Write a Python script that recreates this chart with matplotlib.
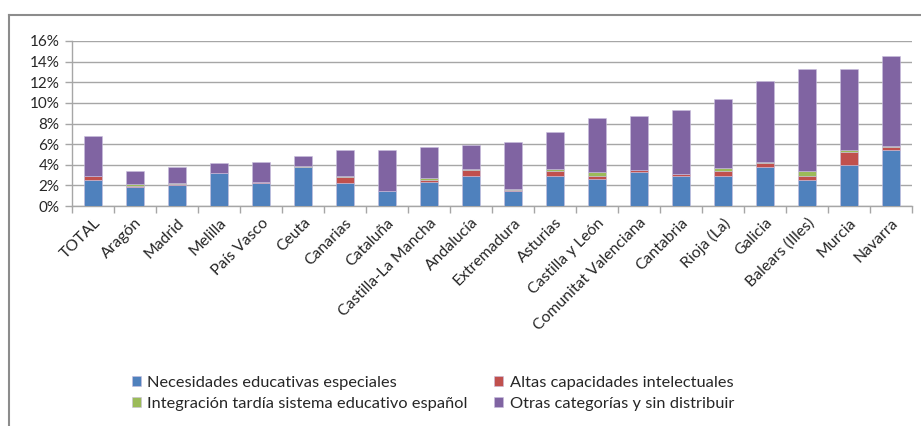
import matplotlib
matplotlib.use("Agg")
import matplotlib.pyplot as plt
from matplotlib.lines import Line2D
from matplotlib.ticker import FuncFormatter, FixedLocator
import numpy as np

plt.rcParams['font.family'] = ['Lato', 'DejaVu Sans']

# data (percent of students)
regions = ["TOTAL", "Aragón", "Madrid", "Melilla", "País Vasco", "Ceuta",
           "Canarias", "Cataluña", "Castilla-La Mancha", "Andalucía",
           "Extremadura", "Asturias", "Castilla y León", "Comunitat Valenciana",
           "Cantabria", "Rioja (La)", "Galicia", "Balears (Illes)", "Murcia",
           "Navarra"]
nee = [2.55, 1.85, 2.0, 3.2, 2.2, 3.78, 2.2, 1.42, 2.36, 2.9,
       1.45, 2.9, 2.65, 3.33, 2.9, 2.9, 3.78, 2.55, 3.98, 5.43]
altas = [0.35, 0.12, 0.15, 0.02, 0.12, 0.02, 0.6, 0.02, 0.13, 0.6,
         0.12, 0.5, 0.25, 0.12, 0.2, 0.45, 0.4, 0.35, 1.22, 0.3]
integ = [0.05, 0.15, 0.1, 0.02, 0.03, 0.1, 0.1, 0.02, 0.25, 0.05,
         0.12, 0.15, 0.4, 0.02, 0.02, 0.3, 0.12, 0.5, 0.22, 0.12]
otras = [3.85, 1.3, 1.5, 0.95, 1.95, 0.95, 2.5, 4.0, 3.0, 2.35,
         4.5, 3.6, 5.2, 5.25, 6.15, 6.7, 7.85, 9.9, 7.9, 8.73]

series = [
    ("Necesidades educativas especiales", nee, "#4F81BD"),
    ("Altas capacidades intelectuales", altas, "#C0504D"),
    ("Integración tardía sistema educativo español", integ, "#9BBB59"),
    ("Otras categorías y sin distribuir", otras, "#8064A2"),
]

W, H = 921, 426
fig = plt.figure(figsize=(W / 100, H / 100), dpi=100)
ax = fig.add_axes([72 / W, (H - 206) / H, 840 / W, 165 / H])

x = np.arange(len(regions))
bottom = np.zeros(len(regions))
for name, vals, col in series:
    ax.bar(x, vals, 0.41, bottom=bottom, color=col, edgecolor="#C9BEDD",
           linewidth=0.4, label=name, zorder=3)
    bottom += np.array(vals)

ax.set_xlim(-0.5, len(regions) - 0.5)
ax.set_ylim(0, 16)
ax.set_yticks(np.arange(0, 17, 2))
ax.yaxis.set_major_formatter(FuncFormatter(lambda v, p: f"{v:.0f}%"))
ax.grid(axis="y", color="#A6A6A6", linewidth=1.0, zorder=0)

ax.set_xticks(x)
ax.set_xticklabels(regions, rotation=45, ha="right", rotation_mode="anchor",
                   fontsize=11.3, color="#262626")
ax.tick_params(axis="x", which="major", length=0, pad=7)
ax.xaxis.set_minor_locator(FixedLocator(np.arange(-0.5, len(regions), 1.0)))
ax.tick_params(axis="x", which="minor", length=5, color="#A6A6A6", width=1)
ax.tick_params(axis="y", length=5, color="#A6A6A6", width=1, labelsize=11,
               labelcolor="#262626", pad=4)

for s in ["top", "right"]:
    ax.spines[s].set_visible(False)
for s in ["left", "bottom"]:
    ax.spines[s].set_color("#A6A6A6")
    ax.spines[s].set_linewidth(1.0)

# outer chart frame (cropped at right and bottom)
fig.add_artist(Line2D([8.5 / W, 1.0], [1 - 15 / H, 1 - 15 / H],
                      color="#8C8C8C", linewidth=1.5, transform=fig.transFigure))
fig.add_artist(Line2D([8.5 / W, 8.5 / W], [0, 1 - 15 / H],
                      color="#8C8C8C", linewidth=1.5, transform=fig.transFigure))

handles, labels = ax.get_legend_handles_labels()
order = [0, 2, 1, 3]
fig.legend([handles[i] for i in order], [labels[i] for i in order],
           loc="upper left", bbox_to_anchor=(117 / W, 1 - 361 / H), ncol=2,
           frameon=False, fontsize=11.8, handlelength=0.55, handleheight=0.55,
           handletextpad=0.4, columnspacing=1.6, labelspacing=0.42,
           labelcolor="#262626")

fig.savefig("out.png", dpi=100)
